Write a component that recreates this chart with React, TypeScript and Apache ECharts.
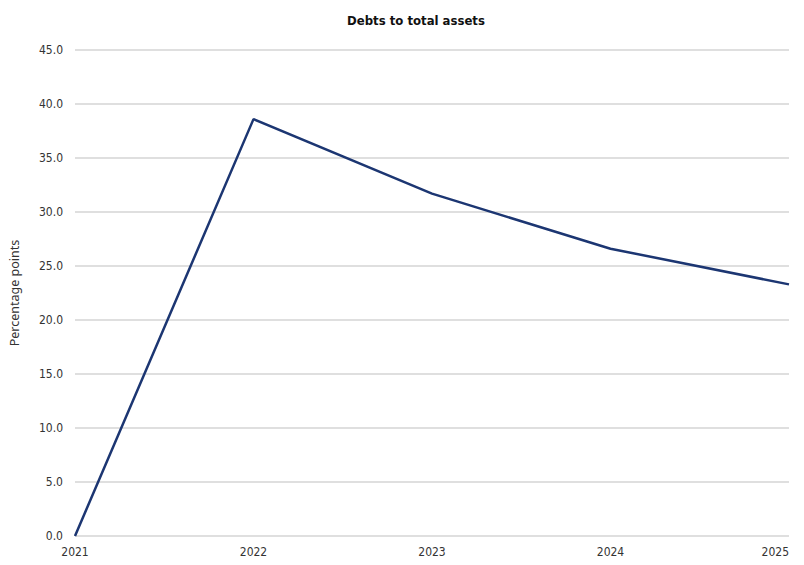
import React, { useEffect, useRef } from "react";
import * as echarts from "echarts";

const years = ["2021", "2022", "2023", "2024", "2025"];
const debtsToAssets = [0, 38.6, 31.7, 26.6, 23.3];
const titleText = "Debts to total assets";
const yAxisName = "Percentage points";

export default function App() {
  const ref = useRef<HTMLDivElement>(null);
  useEffect(() => {
    const chart = echarts.init(ref.current!, null, { renderer: "svg" });
    const font = "'DejaVu Sans Condensed', sans-serif";
    chart.setOption({
      animation: false,
      backgroundColor: "#ffffff",
      title: {
        text: titleText,
        left: 411,
        top: 9,
        textAlign: "center",
        textStyle: { fontFamily: font, fontSize: 13, fontWeight: "bold", color: "#111" },
      },
      grid: { left: 75, right: 15, top: 50, bottom: 29, containLabel: false, outerBoundsMode: "none" },
      xAxis: {
        type: "category",
        data: years,
        boundaryGap: false,
        axisLine: { show: false },
        axisTick: { show: false },
        axisLabel: { fontFamily: font, fontSize: 12, color: "#333", margin: 10, alignMaxLabel: "right" },
      },
      yAxis: {
        type: "value",
        min: 0,
        max: 45,
        interval: 5,
        name: yAxisName,
        nameLocation: "middle",
        nameGap: 54,
        nameRotate: 90,
        nameTextStyle: { fontFamily: "'Noto Sans', sans-serif", fontSize: 12.5, color: "#333" },
        axisLine: { show: false },
        axisTick: { show: false },
        axisLabel: {
          fontFamily: font,
          fontSize: 12,
          color: "#333",
          margin: 12,
          formatter: (v: number) => v.toFixed(1),
        },
        splitLine: { lineStyle: { color: "#d4d4d4", width: 1.5 } },
      },
      series: [
        {
          type: "line",
          data: debtsToAssets,
          symbol: "none",
          lineStyle: { color: "#1c3672", width: 2.5 },
        },
      ],
    });
    return () => chart.dispose();
  }, []);
  return <div ref={ref} style={{ width: 804, height: 565, margin: -8 }} />;
}
